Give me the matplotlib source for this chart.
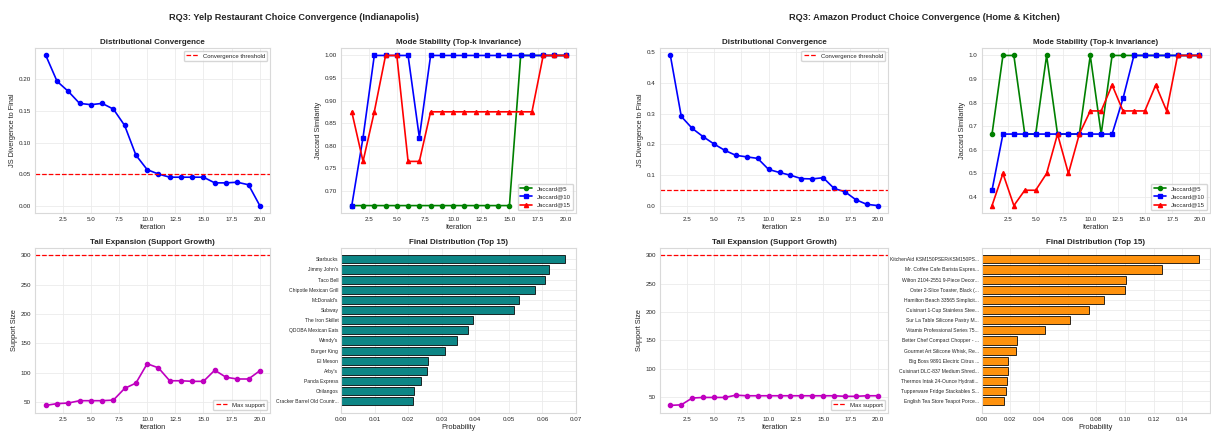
import numpy as np
import matplotlib
matplotlib.use("Agg")
import matplotlib.pyplot as plt
import seaborn as sns

iters = list(range(1, 21))

# Yelp (Indianapolis)
yelp_js = [0.238, 0.197, 0.181, 0.162, 0.160, 0.162, 0.153, 0.127, 0.080, 0.057,
           0.050, 0.045, 0.045, 0.045, 0.045, 0.036, 0.036, 0.037, 0.033, 0.000]
yelp_j5 = [0.667] * 15 + [1.0] * 5
yelp_j10 = [0.667, 0.818, 1.0, 1.0, 1.0, 1.0, 0.818] + [1.0] * 13
yelp_j15 = [0.875, 0.765, 0.875, 1.0, 1.0, 0.765, 0.765] + [0.875] * 10 + [1.0] * 3
yelp_support = [44, 47, 48, 52, 52, 52, 53, 73, 82, 115,
                108, 86, 86, 85, 85, 104, 92, 89, 89, 103]
yelp_names = ["Starbucks", "Jimmy John's", "Taco Bell", "Chipotle Mexican Grill",
              "McDonald's", "Subway", "The Iron Skillet", "QDOBA Mexican Eats",
              "Wendy's", "Burger King", "El Meson", "Arby's", "Panda Express",
              "Chilangos", "Cracker Barrel Old Countr..."]
yelp_probs = [0.0668, 0.0620, 0.0607, 0.0578, 0.0531, 0.0516, 0.0392, 0.0378,
              0.0345, 0.0311, 0.0260, 0.0257, 0.0238, 0.0218, 0.0215]

# Amazon (Home & Kitchen)
amz_js = [0.490, 0.291, 0.252, 0.225, 0.201, 0.180, 0.164, 0.159, 0.154, 0.118,
          0.108, 0.099, 0.088, 0.087, 0.091, 0.056, 0.045, 0.019, 0.004, 0.000]
amz_j5 = [0.667, 1.0, 1.0, 0.667, 0.667, 1.0, 0.667, 0.667, 0.667, 1.0,
          0.667, 1.0, 1.0, 1.0, 1.0, 1.0, 1.0, 1.0, 1.0, 1.0]
amz_j10 = [0.429] + [0.667] * 11 + [0.818] + [1.0] * 7
amz_j15 = [0.364, 0.5, 0.364, 0.429, 0.429, 0.5, 0.667, 0.5, 0.667, 0.765,
           0.765, 0.875, 0.765, 0.765, 0.765, 0.875, 0.765, 1.0, 1.0, 1.0]
amz_support = [35, 36, 48, 49, 49, 49, 53, 52, 52, 52,
               52, 52, 52, 52, 52, 52, 51, 51, 52, 52]
amz_names = ["KitchenAid KSM150PSER/KSM150PS...", "Mr. Coffee Cafe Barista Espres...",
             "Wilton 2104-2551 9-Piece Decor...", "Oster 2-Slice Toaster, Black (...",
             "Hamilton Beach 33565 Simplicit...", "Cuisinart 1-Cup Stainless Stee...",
             "Sur La Table Silicone Pastry M...", "Vitamix Professional Series 75...",
             "Better Chef Compact Chopper - ...", "Gourmet Art Silicone Whisk, Re...",
             "Big Boss 9891 Electric Citrus ...", "Cuisinart DLC-837 Medium Shred...",
             "Thermos Intak 24-Ounce Hydrati...", "Tupperware Fridge Stackables S...",
             "English Tea Store Teapot Porce..."]
amz_probs = [0.1516, 0.1256, 0.1005, 0.0998, 0.0851, 0.0751, 0.0614, 0.0440,
             0.0244, 0.0237, 0.0184, 0.0181, 0.0177, 0.0172, 0.0153]

sns.set_style("whitegrid")
plt.rcParams['font.family'] = ['Liberation Sans', 'DejaVu Sans']
plt.rcParams['axes.edgecolor'] = '0.85'
plt.rcParams['grid.color'] = '0.92'

TS, LS, KS, GS, BS = 5.8, 5.3, 4.5, 4.3, 3.6


def panel(fig, gs, js, j5, j10, j15, support, names, probs, bar_color):
    ax = fig.add_subplot(gs[0, 0])
    ax.plot(iters, js, 'o-', color='blue', lw=1.2, ms=3)
    ax.axhline(0.05, color='red', ls='--', lw=0.9, label='Convergence threshold')
    ax.set_title('Distributional Convergence', fontsize=TS, fontweight='bold', pad=3)
    ax.set_xlabel('Iteration', fontsize=LS, labelpad=1.5)
    ax.set_ylabel('JS Divergence to Final', fontsize=LS, labelpad=2)
    ax.legend(fontsize=GS, loc='upper right')

    ax = fig.add_subplot(gs[0, 1])
    ax.plot(iters, j5, 'o-', color='green', lw=1.2, ms=3, label='Jaccard@5')
    ax.plot(iters, j10, 's-', color='blue', lw=1.2, ms=3, label='Jaccard@10')
    ax.plot(iters, j15, '^-', color='red', lw=1.2, ms=3, label='Jaccard@15')
    ax.set_title('Mode Stability (Top-k Invariance)', fontsize=TS, fontweight='bold', pad=3)
    ax.set_xlabel('Iteration', fontsize=LS, labelpad=1.5)
    ax.set_ylabel('Jaccard Similarity', fontsize=LS, labelpad=2)
    ax.legend(fontsize=GS, loc='lower right')

    ax = fig.add_subplot(gs[1, 0])
    ax.plot(iters, support, 'o-', color='m', lw=1.2, ms=3)
    ax.axhline(300, color='red', ls='--', lw=0.9, label='Max support')
    ax.set_title('Tail Expansion (Support Growth)', fontsize=TS, fontweight='bold', pad=3)
    ax.set_xlabel('Iteration', fontsize=LS, labelpad=1.5)
    ax.set_ylabel('Support Size', fontsize=LS, labelpad=2)
    ax.legend(fontsize=GS, loc='lower right')

    ax = fig.add_subplot(gs[1, 1])
    ypos = np.arange(len(names))
    ax.barh(ypos, probs, color=bar_color, edgecolor='black', lw=0.6, alpha=0.95)
    ax.set_yticks(ypos)
    ax.set_yticklabels(names)
    ax.invert_yaxis()
    ax.set_title('Final Distribution (Top 15)', fontsize=TS, fontweight='bold', pad=3)
    ax.set_xlabel('Probability', fontsize=LS, labelpad=1.5)

    for a in fig.axes[-4:]:
        a.tick_params(labelsize=KS, pad=3, length=0)
        a.grid(True, lw=0.6)
    fig.axes[-1].tick_params(axis='y', labelsize=BS, pad=2)


fig = plt.figure(figsize=(12.11, 4.36), dpi=100)

gs_l = fig.add_gridspec(2, 2, left=0.029, right=0.476, top=0.890, bottom=0.053,
                        wspace=0.30, hspace=0.21)
gs_r = fig.add_gridspec(2, 2, left=0.545, right=0.999, top=0.890, bottom=0.053,
                        wspace=0.41, hspace=0.21)

panel(fig, gs_l, yelp_js, yelp_j5, yelp_j10, yelp_j15, yelp_support,
      yelp_names, yelp_probs, 'teal')
panel(fig, gs_r, amz_js, amz_j5, amz_j10, amz_j15, amz_support,
      amz_names, amz_probs, 'darkorange')

fig.text(0.243, 0.959, 'RQ3: Yelp Restaurant Choice Convergence (Indianapolis)',
         ha='center', va='center', fontsize=6.6, fontweight='bold')
fig.text(0.763, 0.959, 'RQ3: Amazon Product Choice Convergence (Home & Kitchen)',
         ha='center', va='center', fontsize=6.6, fontweight='bold')

fig.savefig('out.png', dpi=100)
